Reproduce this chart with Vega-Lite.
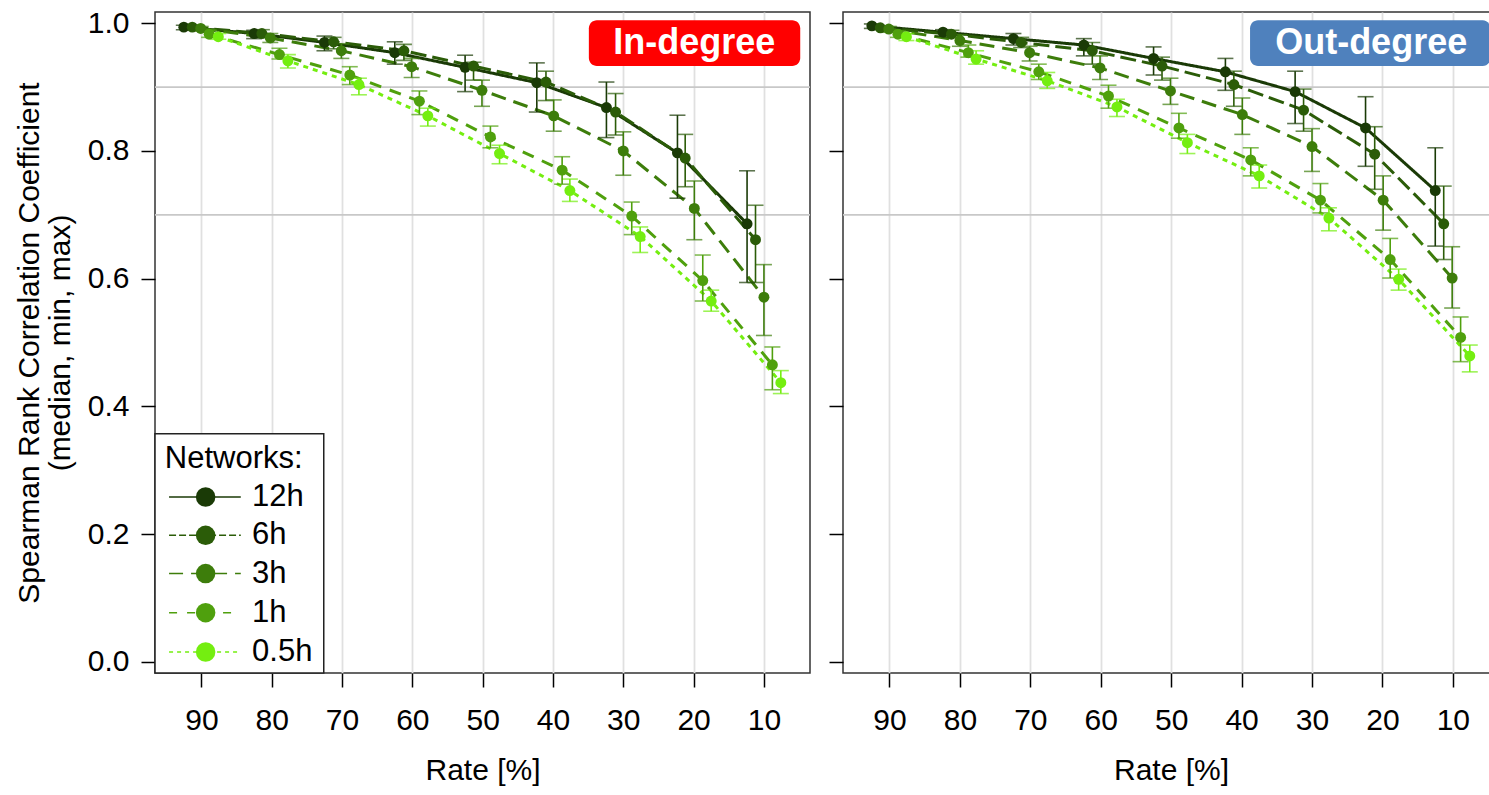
{
  "$schema": "https://vega.github.io/schema/vega-lite/v6.json",
  "background": "white",
  "padding": {"left": 13, "top": 7, "right": 0, "bottom": 0},
  "bounds": "flush",
  "spacing": 33,
  "config": {
    "font": "Liberation Sans",
    "view": {"stroke": "#333333", "strokeWidth": 1.5},
    "axis": {
      "labelFont": "Liberation Sans", "titleFont": "Liberation Sans",
      "labelFontSize": 30, "titleFontSize": 30, "titleFontWeight": "normal",
      "labelColor": "black", "titleColor": "black",
      "tickColor": "black", "tickWidth": 1.5, "tickSize": 14,
      "domain": false, "gridColor": "#e0e0e0", "gridWidth": 1.8
    }
  },
  "datasets": {
    "indeg": [
      {"network": "12h", "rate": 92.5, "median": 0.994, "min": 0.990, "max": 0.997},
      {"network": "12h", "rate": 82.5, "median": 0.984, "min": 0.976, "max": 0.989},
      {"network": "12h", "rate": 72.5, "median": 0.970, "min": 0.957, "max": 0.980},
      {"network": "12h", "rate": 62.5, "median": 0.954, "min": 0.936, "max": 0.971},
      {"network": "12h", "rate": 52.5, "median": 0.931, "min": 0.893, "max": 0.950},
      {"network": "12h", "rate": 42.3, "median": 0.907, "min": 0.861, "max": 0.938},
      {"network": "12h", "rate": 32.4, "median": 0.868, "min": 0.821, "max": 0.908},
      {"network": "12h", "rate": 22.3, "median": 0.797, "min": 0.726, "max": 0.856},
      {"network": "12h", "rate": 12.4, "median": 0.686, "min": 0.594, "max": 0.769},
      {"network": "6h", "rate": 91.3, "median": 0.994, "min": 0.990, "max": 0.997},
      {"network": "6h", "rate": 81.4, "median": 0.984, "min": 0.978, "max": 0.990},
      {"network": "6h", "rate": 71.2, "median": 0.971, "min": 0.960, "max": 0.978},
      {"network": "6h", "rate": 61.2, "median": 0.957, "min": 0.942, "max": 0.967},
      {"network": "6h", "rate": 51.3, "median": 0.933, "min": 0.911, "max": 0.939},
      {"network": "6h", "rate": 41.0, "median": 0.908, "min": 0.879, "max": 0.925},
      {"network": "6h", "rate": 31.1, "median": 0.861, "min": 0.825, "max": 0.890},
      {"network": "6h", "rate": 21.2, "median": 0.789, "min": 0.744, "max": 0.826},
      {"network": "6h", "rate": 11.2, "median": 0.661, "min": 0.594, "max": 0.715},
      {"network": "3h", "rate": 90.1, "median": 0.992, "min": 0.988, "max": 0.995},
      {"network": "3h", "rate": 80.2, "median": 0.977, "min": 0.970, "max": 0.984},
      {"network": "3h", "rate": 70.1, "median": 0.957, "min": 0.945, "max": 0.968},
      {"network": "3h", "rate": 60.1, "median": 0.932, "min": 0.915, "max": 0.945},
      {"network": "3h", "rate": 50.1, "median": 0.895, "min": 0.870, "max": 0.911},
      {"network": "3h", "rate": 39.9, "median": 0.855, "min": 0.831, "max": 0.880},
      {"network": "3h", "rate": 30.0, "median": 0.800, "min": 0.762, "max": 0.830},
      {"network": "3h", "rate": 19.9, "median": 0.710, "min": 0.661, "max": 0.753},
      {"network": "3h", "rate": 10.0, "median": 0.571, "min": 0.511, "max": 0.622},
      {"network": "1h", "rate": 88.9, "median": 0.983, "min": 0.978, "max": 0.989},
      {"network": "1h", "rate": 78.9, "median": 0.951, "min": 0.944, "max": 0.961},
      {"network": "1h", "rate": 68.9, "median": 0.919, "min": 0.904, "max": 0.932},
      {"network": "1h", "rate": 59.0, "median": 0.878, "min": 0.857, "max": 0.894},
      {"network": "1h", "rate": 48.9, "median": 0.822, "min": 0.805, "max": 0.839},
      {"network": "1h", "rate": 38.7, "median": 0.770, "min": 0.748, "max": 0.791},
      {"network": "1h", "rate": 28.8, "median": 0.698, "min": 0.669, "max": 0.720},
      {"network": "1h", "rate": 18.7, "median": 0.597, "min": 0.565, "max": 0.637},
      {"network": "1h", "rate": 8.8, "median": 0.465, "min": 0.426, "max": 0.493},
      {"network": "0.5h", "rate": 87.6, "median": 0.979, "min": 0.975, "max": 0.984},
      {"network": "0.5h", "rate": 77.7, "median": 0.941, "min": 0.930, "max": 0.951},
      {"network": "0.5h", "rate": 67.6, "median": 0.904, "min": 0.888, "max": 0.914},
      {"network": "0.5h", "rate": 57.8, "median": 0.855, "min": 0.839, "max": 0.867},
      {"network": "0.5h", "rate": 47.6, "median": 0.796, "min": 0.780, "max": 0.809},
      {"network": "0.5h", "rate": 37.6, "median": 0.738, "min": 0.721, "max": 0.756},
      {"network": "0.5h", "rate": 27.6, "median": 0.666, "min": 0.641, "max": 0.681},
      {"network": "0.5h", "rate": 17.5, "median": 0.565, "min": 0.549, "max": 0.582},
      {"network": "0.5h", "rate": 7.6, "median": 0.437, "min": 0.420, "max": 0.456}
    ],
    "outdeg": [
      {"network": "12h", "rate": 92.5, "median": 0.996, "min": 0.992, "max": 0.999},
      {"network": "12h", "rate": 82.4, "median": 0.986, "min": 0.980, "max": 0.990},
      {"network": "12h", "rate": 72.4, "median": 0.976, "min": 0.966, "max": 0.984},
      {"network": "12h", "rate": 62.4, "median": 0.966, "min": 0.949, "max": 0.976},
      {"network": "12h", "rate": 52.5, "median": 0.945, "min": 0.919, "max": 0.963},
      {"network": "12h", "rate": 42.3, "median": 0.924, "min": 0.895, "max": 0.945},
      {"network": "12h", "rate": 32.4, "median": 0.893, "min": 0.843, "max": 0.925},
      {"network": "12h", "rate": 22.4, "median": 0.836, "min": 0.776, "max": 0.885},
      {"network": "12h", "rate": 12.5, "median": 0.738, "min": 0.651, "max": 0.805},
      {"network": "6h", "rate": 91.3, "median": 0.993, "min": 0.990, "max": 0.996},
      {"network": "6h", "rate": 81.2, "median": 0.983, "min": 0.978, "max": 0.989},
      {"network": "6h", "rate": 71.3, "median": 0.970, "min": 0.962, "max": 0.978},
      {"network": "6h", "rate": 61.2, "median": 0.957, "min": 0.936, "max": 0.970},
      {"network": "6h", "rate": 51.3, "median": 0.933, "min": 0.911, "max": 0.947},
      {"network": "6h", "rate": 41.1, "median": 0.904, "min": 0.870, "max": 0.925},
      {"network": "6h", "rate": 31.2, "median": 0.864, "min": 0.831, "max": 0.897},
      {"network": "6h", "rate": 21.1, "median": 0.795, "min": 0.740, "max": 0.838},
      {"network": "6h", "rate": 11.3, "median": 0.686, "min": 0.630, "max": 0.745},
      {"network": "3h", "rate": 90.1, "median": 0.991, "min": 0.986, "max": 0.995},
      {"network": "3h", "rate": 80.0, "median": 0.973, "min": 0.964, "max": 0.982},
      {"network": "3h", "rate": 70.1, "median": 0.954, "min": 0.941, "max": 0.964},
      {"network": "3h", "rate": 60.1, "median": 0.930, "min": 0.912, "max": 0.949},
      {"network": "3h", "rate": 50.1, "median": 0.894, "min": 0.873, "max": 0.914},
      {"network": "3h", "rate": 39.9, "median": 0.857, "min": 0.826, "max": 0.883},
      {"network": "3h", "rate": 30.0, "median": 0.807, "min": 0.768, "max": 0.835},
      {"network": "3h", "rate": 19.9, "median": 0.723, "min": 0.676, "max": 0.761},
      {"network": "3h", "rate": 10.1, "median": 0.601, "min": 0.554, "max": 0.650},
      {"network": "1h", "rate": 88.8, "median": 0.983, "min": 0.978, "max": 0.988},
      {"network": "1h", "rate": 78.8, "median": 0.954, "min": 0.947, "max": 0.966},
      {"network": "1h", "rate": 68.8, "median": 0.924, "min": 0.912, "max": 0.936},
      {"network": "1h", "rate": 58.9, "median": 0.886, "min": 0.867, "max": 0.903},
      {"network": "1h", "rate": 48.9, "median": 0.836, "min": 0.820, "max": 0.859},
      {"network": "1h", "rate": 38.7, "median": 0.786, "min": 0.761, "max": 0.805},
      {"network": "1h", "rate": 28.8, "median": 0.723, "min": 0.703, "max": 0.749},
      {"network": "1h", "rate": 18.9, "median": 0.630, "min": 0.601, "max": 0.663},
      {"network": "1h", "rate": 8.9, "median": 0.508, "min": 0.470, "max": 0.540},
      {"network": "0.5h", "rate": 87.6, "median": 0.979, "min": 0.973, "max": 0.984},
      {"network": "0.5h", "rate": 77.7, "median": 0.944, "min": 0.936, "max": 0.957},
      {"network": "0.5h", "rate": 67.6, "median": 0.910, "min": 0.898, "max": 0.923},
      {"network": "0.5h", "rate": 57.7, "median": 0.869, "min": 0.854, "max": 0.881},
      {"network": "0.5h", "rate": 47.7, "median": 0.813, "min": 0.796, "max": 0.826},
      {"network": "0.5h", "rate": 37.5, "median": 0.761, "min": 0.742, "max": 0.778},
      {"network": "0.5h", "rate": 27.6, "median": 0.695, "min": 0.675, "max": 0.711},
      {"network": "0.5h", "rate": 17.7, "median": 0.599, "min": 0.582, "max": 0.615},
      {"network": "0.5h", "rate": 7.6, "median": 0.479, "min": 0.454, "max": 0.496}
    ]
  },
  "hconcat": [
    {
      "width": 655, "height": 661,
      "layer": [
        {"data": {"values": [{"g": 0.7}, {"g": 0.9}]},
         "mark": {"type": "rule", "color": "#c8c8c8", "strokeWidth": 1.8},
         "encoding": {"y": {"field": "g", "type": "quantitative", "title": ["Spearman Rank Correlation Coefficient", "(median, min, max)"]}}},
        {"data": {"name": "indeg"},
         "mark": {"type": "line", "strokeWidth": 3},
         "encoding": {
           "x": {"field": "rate", "type": "quantitative", "title": "Rate [%]",
                 "scale": {"domain": [3.45, 96.6], "reverse": true, "nice": false, "zero": false},
                 "axis": {"values": [90, 80, 70, 60, 50, 40, 30, 20, 10], "grid": true, "labelPadding": 18, "titlePadding": 20, "labelFlush": false}},
           "y": {"field": "median", "type": "quantitative", "title": ["Spearman Rank Correlation Coefficient", "(median, min, max)"],
                 "scale": {"domain": [-0.0177, 1.0177], "nice": false, "zero": false},
                 "axis": {"values": [0, 0.2, 0.4, 0.6, 0.8, 1.0], "format": ".1f", "grid": false, "labelPadding": 12, "titlePadding": 12, "titleLineHeight": 31, "labelFlush": false}},
           "color": {"field": "network", "type": "nominal", "legend": null,
                     "scale": {"domain": ["12h", "6h", "3h", "1h", "0.5h"], "range": ["#1a3a06", "#2b5c08", "#3d7d0b", "#4fa00d", "#74ee10"]}},
           "strokeDash": {"field": "network", "type": "nominal", "legend": null,
                          "scale": {"domain": ["12h", "6h", "3h", "1h", "0.5h"], "range": [[1, 0], [16, 6], [15, 8], [12, 9], [5, 5]]}}
         }},
        {"data": {"name": "indeg"},
         "mark": {"type": "errorbar", "ticks": {"size": 16}, "thickness": 1.6},
         "encoding": {
           "x": {"field": "rate", "type": "quantitative", "title": "Rate [%]"},
           "y": {"field": "min", "type": "quantitative", "title": ["Spearman Rank Correlation Coefficient", "(median, min, max)"]},
           "y2": {"field": "max"},
           "color": {"field": "network", "type": "nominal", "legend": null}
         }},
        {"data": {"name": "indeg"},
         "mark": {"type": "circle", "size": 120, "opacity": 1},
         "encoding": {
           "x": {"field": "rate", "type": "quantitative", "title": "Rate [%]"},
           "y": {"field": "median", "type": "quantitative", "title": ["Spearman Rank Correlation Coefficient", "(median, min, max)"]},
           "color": {"field": "network", "type": "nominal", "legend": null}
         }},
        {"data": {"values": [{}]},
         "layer": [
           {"mark": {"type": "rect", "fill": "#ff0000", "cornerRadius": 8},
            "encoding": {"x": {"datum": 34.9}, "x2": {"datum": 4.84}, "y": {"datum": 1.0047}, "y2": {"datum": 0.933}}},
           {"mark": {"type": "text", "text": "In-degree", "fontSize": 36, "fontWeight": "bold", "color": "white", "align": "center", "baseline": "middle"},
            "encoding": {"x": {"datum": 19.9}, "y": {"datum": 0.969}}},
           {"mark": {"type": "rect", "fill": "white", "stroke": "#222222", "strokeWidth": 1.5},
            "encoding": {"x": {"datum": 96.6}, "x2": {"datum": 72.6}, "y": {"datum": -0.0177}, "y2": {"datum": 0.357}}},
           {"mark": {"type": "text", "text": "Networks:", "fontSize": 31, "align": "left", "baseline": "middle", "color": "black"},
            "encoding": {"x": {"datum": 95.2}, "y": {"datum": 0.3175}}},
           {"mark": {"type": "rule", "strokeWidth": 1.5},
            "encoding": {"x": {"datum": 94.6}, "x2": {"datum": 84.4}, "y": {"datum": 0.258}, "color": {"datum": "12h"}}},
           {"mark": {"type": "rule", "strokeWidth": 1.5, "strokeDash": [7, 3]},
            "encoding": {"x": {"datum": 94.6}, "x2": {"datum": 84.4}, "y": {"datum": 0.198}, "color": {"datum": "6h"}}},
           {"mark": {"type": "rule", "strokeWidth": 1.5, "strokeDash": [14, 8]},
            "encoding": {"x": {"datum": 94.6}, "x2": {"datum": 84.4}, "y": {"datum": 0.138}, "color": {"datum": "3h"}}},
           {"mark": {"type": "rule", "strokeWidth": 1.5, "strokeDash": [8, 10]},
            "encoding": {"x": {"datum": 94.6}, "x2": {"datum": 84.4}, "y": {"datum": 0.0768}, "color": {"datum": "1h"}}},
           {"mark": {"type": "rule", "strokeWidth": 1.5, "strokeDash": [4, 4]},
            "encoding": {"x": {"datum": 94.6}, "x2": {"datum": 84.4}, "y": {"datum": 0.0152}, "color": {"datum": "0.5h"}}},
           {"mark": {"type": "circle", "size": 380, "opacity": 1},
            "encoding": {"x": {"datum": 89.4}, "y": {"datum": 0.258}, "color": {"datum": "12h"}}},
           {"mark": {"type": "circle", "size": 380, "opacity": 1},
            "encoding": {"x": {"datum": 89.4}, "y": {"datum": 0.198}, "color": {"datum": "6h"}}},
           {"mark": {"type": "circle", "size": 380, "opacity": 1},
            "encoding": {"x": {"datum": 89.4}, "y": {"datum": 0.138}, "color": {"datum": "3h"}}},
           {"mark": {"type": "circle", "size": 380, "opacity": 1},
            "encoding": {"x": {"datum": 89.4}, "y": {"datum": 0.0768}, "color": {"datum": "1h"}}},
           {"mark": {"type": "circle", "size": 380, "opacity": 1},
            "encoding": {"x": {"datum": 89.4}, "y": {"datum": 0.0152}, "color": {"datum": "0.5h"}}},
           {"mark": {"type": "text", "text": "12h", "fontSize": 31, "align": "left", "baseline": "middle", "color": "black"},
            "encoding": {"x": {"datum": 82.8}, "y": {"datum": 0.258}}},
           {"mark": {"type": "text", "text": "6h", "fontSize": 31, "align": "left", "baseline": "middle", "color": "black"},
            "encoding": {"x": {"datum": 82.8}, "y": {"datum": 0.198}}},
           {"mark": {"type": "text", "text": "3h", "fontSize": 31, "align": "left", "baseline": "middle", "color": "black"},
            "encoding": {"x": {"datum": 82.8}, "y": {"datum": 0.138}}},
           {"mark": {"type": "text", "text": "1h", "fontSize": 31, "align": "left", "baseline": "middle", "color": "black"},
            "encoding": {"x": {"datum": 82.8}, "y": {"datum": 0.0768}}},
           {"mark": {"type": "text", "text": "0.5h", "fontSize": 31, "align": "left", "baseline": "middle", "color": "black"},
            "encoding": {"x": {"datum": 82.8}, "y": {"datum": 0.0152}}}
         ]}
      ]
    },
    {
      "width": 656, "height": 661,
      "layer": [
        {"data": {"values": [{"g": 0.7}, {"g": 0.9}]},
         "mark": {"type": "rule", "color": "#c8c8c8", "strokeWidth": 1.8},
         "encoding": {"y": {"field": "g", "type": "quantitative", "title": null}}},
        {"data": {"name": "outdeg"},
         "mark": {"type": "line", "strokeWidth": 3},
         "encoding": {
           "x": {"field": "rate", "type": "quantitative", "title": "Rate [%]",
                 "scale": {"domain": [3.45, 96.6], "reverse": true, "nice": false, "zero": false},
                 "axis": {"values": [90, 80, 70, 60, 50, 40, 30, 20, 10], "grid": true, "labelPadding": 18, "titlePadding": 20, "labelFlush": false}},
           "y": {"field": "median", "type": "quantitative", "title": null,
                 "scale": {"domain": [-0.0177, 1.0177], "nice": false, "zero": false},
                 "axis": {"values": [0, 0.2, 0.4, 0.6, 0.8, 1.0], "labels": false, "grid": false}},
           "color": {"field": "network", "type": "nominal", "legend": null,
                     "scale": {"domain": ["12h", "6h", "3h", "1h", "0.5h"], "range": ["#1a3a06", "#2b5c08", "#3d7d0b", "#4fa00d", "#74ee10"]}},
           "strokeDash": {"field": "network", "type": "nominal", "legend": null,
                          "scale": {"domain": ["12h", "6h", "3h", "1h", "0.5h"], "range": [[1, 0], [16, 6], [15, 8], [12, 9], [5, 5]]}}
         }},
        {"data": {"name": "outdeg"},
         "mark": {"type": "errorbar", "ticks": {"size": 16}, "thickness": 1.6},
         "encoding": {
           "x": {"field": "rate", "type": "quantitative", "title": "Rate [%]"},
           "y": {"field": "min", "type": "quantitative", "title": null},
           "y2": {"field": "max"},
           "color": {"field": "network", "type": "nominal", "legend": null}
         }},
        {"data": {"name": "outdeg"},
         "mark": {"type": "circle", "size": 120, "opacity": 1},
         "encoding": {
           "x": {"field": "rate", "type": "quantitative", "title": "Rate [%]"},
           "y": {"field": "median", "type": "quantitative", "title": null},
           "color": {"field": "network", "type": "nominal", "legend": null}
         }},
        {"data": {"values": [{}]},
         "layer": [
           {"mark": {"type": "rect", "fill": "#4f81bd", "cornerRadius": 8},
            "encoding": {"x": {"datum": 38.8}, "x2": {"datum": 4.65}, "y": {"datum": 1.0047}, "y2": {"datum": 0.933}}},
           {"mark": {"type": "text", "text": "Out-degree", "fontSize": 36, "fontWeight": "bold", "color": "white", "align": "center", "baseline": "middle"},
            "encoding": {"x": {"datum": 21.6}, "y": {"datum": 0.969}}}
         ]}
      ]
    }
  ]
}
